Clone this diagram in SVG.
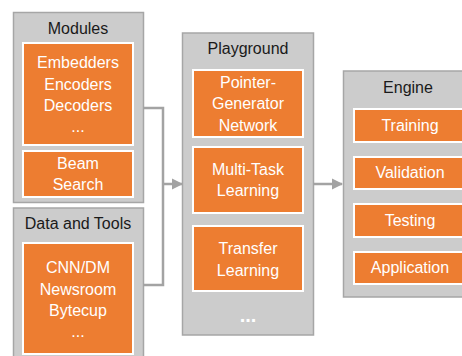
<svg xmlns="http://www.w3.org/2000/svg" width="462" height="356" viewBox="0 0 462 356">
<style>
.panel{fill:#cccccc;stroke:#a6a6a6;stroke-width:1.5}
.box{fill:#ed7d31;stroke:#ffffff;stroke-width:2}
.h{font-family:"Liberation Sans",Arial,sans-serif;font-size:16px;fill:#1a1a1a;text-anchor:middle}
.t{font-family:"Liberation Sans",Arial,sans-serif;font-size:16px;fill:#ffffff;text-anchor:middle}
.c{fill:none;stroke:#a3a3a3;stroke-width:2.5}
</style>
<defs>
<marker id="ah" viewBox="0 0 10 10" refX="9" refY="5" markerWidth="4.5" markerHeight="4.5" orient="auto" markerUnits="strokeWidth">
<path d="M0,0 L10,5 L0,10 z" fill="#a3a3a3"/>
</marker>
</defs>
<g id="modules">
<rect class="panel" x="13.5" y="12.5" width="130" height="190"/>
<text class="h" x="78" y="34">Modules</text>
<rect class="box" x="23" y="43" width="110" height="102"/>
<text class="t" x="78" y="68">Embedders</text>
<text class="t" x="78" y="89.5">Encoders</text>
<text class="t" x="78" y="111">Decoders</text>
<text class="t" x="78" y="132">...</text>
<rect class="box" x="23" y="151" width="110" height="46"/>
<text class="t" x="78" y="169">Beam</text>
<text class="t" x="78" y="190">Search</text>
</g>
<g id="data">
<rect class="panel" x="13.5" y="208" width="130" height="160"/>
<text class="h" x="78" y="229">Data and Tools</text>
<rect class="box" x="23" y="243" width="110" height="111"/>
<text class="t" x="78" y="273">CNN/DM</text>
<text class="t" x="78" y="294.5">Newsroom</text>
<text class="t" x="78" y="316">Bytecup</text>
<text class="t" x="78" y="337">...</text>
</g>
<g id="playground">
<rect class="panel" x="182.5" y="33" width="131" height="302"/>
<text class="h" x="248" y="54">Playground</text>
<rect class="box" x="193" y="70" width="110" height="67"/>
<text class="t" x="248" y="88">Pointer-</text>
<text class="t" x="248" y="109">Generator</text>
<text class="t" x="248" y="131">Network</text>
<rect class="box" x="193" y="147" width="110" height="66"/>
<text class="t" x="248" y="175">Multi-Task</text>
<text class="t" x="248" y="196">Learning</text>
<rect class="box" x="193" y="226" width="110" height="65"/>
<text class="t" x="248" y="254">Transfer</text>
<text class="t" x="248" y="276">Learning</text>
<text class="t" x="248" y="322" style="font-size:20px;font-weight:bold">...</text>
</g>
<g id="engine">
<rect class="panel" x="343.5" y="71" width="130" height="226"/>
<text class="h" x="408" y="93">Engine</text>
<rect class="box" x="354" y="109" width="112" height="33"/>
<text class="t" x="410" y="131">Training</text>
<rect class="box" x="354" y="157" width="112" height="32"/>
<text class="t" x="410" y="178">Validation</text>
<rect class="box" x="354" y="204" width="112" height="33"/>
<text class="t" x="410" y="226">Testing</text>
<rect class="box" x="354" y="252" width="112" height="32"/>
<text class="t" x="410" y="273">Application</text>
</g>
<g id="connectors">
<polyline class="c" points="143,108 163,108 163,285 143,285"/>
<line class="c" x1="163" y1="184" x2="182" y2="184" marker-end="url(#ah)"/>
<line class="c" x1="313" y1="184" x2="342" y2="184" marker-end="url(#ah)"/>
</g>
</svg>
